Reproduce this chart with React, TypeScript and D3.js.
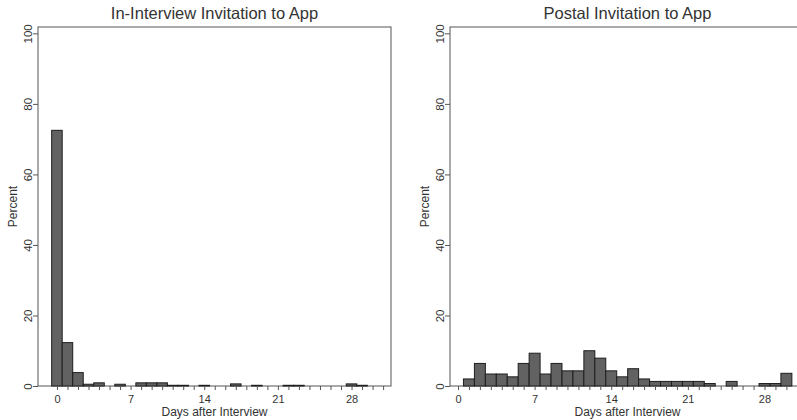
import React, { useEffect, useRef } from 'react';
import * as d3 from 'd3';

// day bins 0..30, percent of respondents
const days = d3.range(0, 31);
const inInterview = [72.5, 12.3, 3.8, 0.5, 0.9, 0, 0.5, 0, 0.9, 0.9, 0.9, 0.2, 0.2, 0, 0.2, 0, 0, 0.6, 0, 0.2, 0, 0, 0.2, 0.2, 0, 0, 0, 0, 0.6, 0.2, 0];
const postal = [0, 2.0, 6.4, 3.4, 3.4, 2.6, 6.4, 9.3, 3.4, 6.4, 4.3, 4.3, 10.0, 7.9, 4.3, 2.6, 4.9, 2.0, 1.3, 1.3, 1.3, 1.3, 1.3, 0.7, 0, 1.3, 0, 0, 0.7, 0.7, 3.6];
const yTicks = [0, 20, 40, 60, 80, 100];
const xTicks = d3.range(0, 32);
const xLabelled = [0, 7, 14, 21, 28];

const font = '"Liberation Sans", Arial, sans-serif';
const textColor = '#333';

const top = 27;
const bottom = 386;

const Panel = ({ title, values, left, right, xDomain }) => {
  const xAxisRef = useRef(null);
  const yAxisRef = useRef(null);

  const x = d3.scaleLinear().domain(xDomain).range([left, right]);
  const y = d3.scaleLinear().domain([0, 101.8]).range([bottom, top]);
  const w = x(1) - x(0);

  useEffect(() => {
    const gx = d3.select(xAxisRef.current);
    gx.call(
      d3.axisBottom(x)
        .tickValues(xTicks)
        .tickSize(4)
        .tickPadding(5)
        .tickFormat(d => (xLabelled.includes(d) ? String(d) : ''))
    );
    gx.select('.domain').remove();
    gx.selectAll('line').attr('stroke', '#555');
    gx.selectAll('text').attr('fill', textColor).attr('font-size', 11).attr('font-family', font);

    const gy = d3.select(yAxisRef.current);
    gy.call(d3.axisLeft(y).tickValues(yTicks).tickSize(5));
    gy.select('.domain').remove();
    gy.selectAll('line').attr('stroke', '#555');
    gy.selectAll('text')
      .attr('fill', textColor)
      .attr('font-size', 11.5)
      .attr('font-family', font)
      .attr('x', 0)
      .attr('y', -6)
      .attr('dy', 0)
      .attr('text-anchor', 'middle')
      .attr('transform', 'rotate(-90)');
  });

  return (
    <g>
      <text x={(left + right) / 2} y={19} textAnchor="middle" fontSize={16.5} fontFamily={font} fill={textColor}>
        {title}
      </text>
      <rect x={left} y={top} width={right - left} height={bottom - top} fill="white" stroke="#555" strokeWidth={1} />
      {values.map((v, i) =>
        v > 0 ? (
          <rect
            key={i}
            x={x(days[i]) - w / 2}
            y={y(v)}
            width={w}
            height={y(0) - y(v)}
            fill="#626262"
            stroke="#1e1e1e"
            strokeWidth={1}
          />
        ) : null
      )}
      <g ref={xAxisRef} transform={`translate(0,${bottom})`} />
      <g ref={yAxisRef} transform={`translate(${left},0)`} />
      <text x={(left + right) / 2} y={416} textAnchor="middle" fontSize={12} fontFamily={font} fill={textColor}>
        Days after Interview
      </text>
      <text
        transform={`translate(${left - 21},${(top + bottom) / 2}) rotate(-90)`}
        textAnchor="middle"
        fontSize={12}
        fontFamily={font}
        fill={textColor}
      >
        Percent
      </text>
    </g>
  );
};

export default function App() {
  return (
    <svg width={797} height={420} style={{ position: 'absolute', left: 0, top: 0, background: 'white' }}>
      <rect width={797} height={420} fill="white" />
      <Panel title="In-Interview Invitation to App" values={inInterview} left={38} right={391} xDomain={[-1.8, 31.75]} />
      <Panel title="Postal Invitation to App" values={postal} left={450} right={805} xDomain={[-0.73, 31.7]} />
    </svg>
  );
}
